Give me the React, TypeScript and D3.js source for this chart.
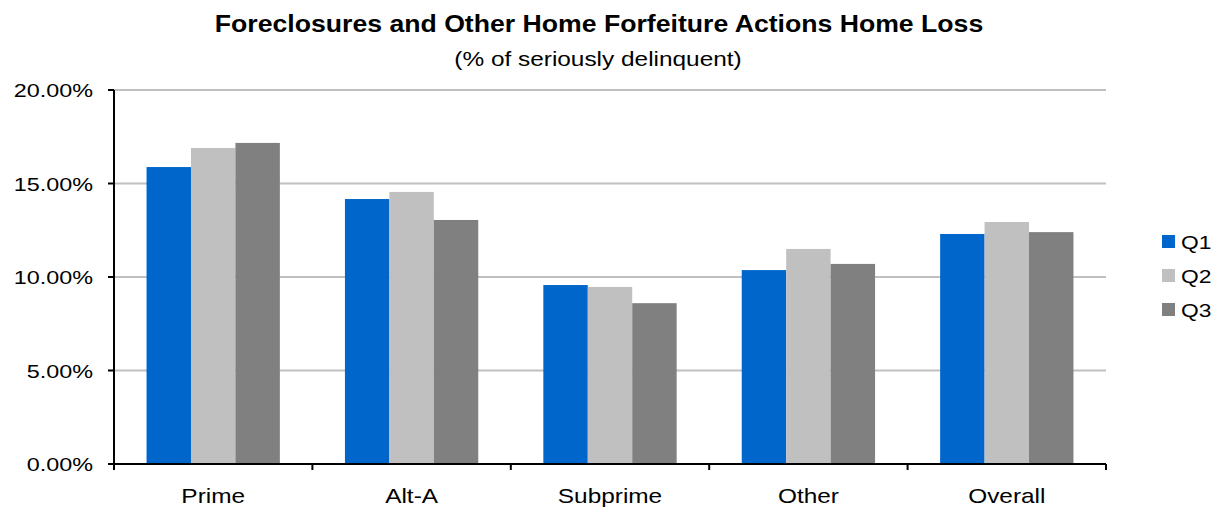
import React, { useEffect, useRef } from 'react';
import * as d3 from 'd3';

const categories = ['Prime', 'Alt-A', 'Subprime', 'Other', 'Overall'];
const seriesNames = ['Q1', 'Q2', 'Q3'];
const q1 = [15.88, 14.17, 9.57, 10.37, 12.3];
const q2 = [16.9, 14.55, 9.47, 11.5, 12.94];
const q3 = [17.17, 13.05, 8.6, 10.7, 12.4];
const yTicks = [0, 5, 10, 15, 20];
const colors = ['#0066CC', '#C0C0C0', '#808080'];

const App = () => {
  const svgRef = useRef<SVGSVGElement>(null);

  useEffect(() => {
    const width = 1211;
    const height = 510;
    const left = 114, right = 1106, top = 90, bottom = 464;
    const font = 'Liberation Sans, Arial, sans-serif';

    const svg = d3.select(svgRef.current).attr('width', width).attr('height', height);
    svg.selectAll('*').remove();

    // text in the original is a bit wider than Arial, so stretch it horizontally
    const label = (g: any, x: number, y: number, txt: string, size: number, sx: number, anchor = 'start', bold = false) =>
      g.append('text')
        .attr('transform', `translate(${x},${y}) scale(${sx},1)`)
        .attr('text-anchor', anchor)
        .style('font-family', font)
        .style('font-size', size + 'px')
        .style('font-weight', bold ? 'bold' : 'normal')
        .text(txt);

    const series = [q1, q2, q3];

    const x0 = d3.scaleBand().domain(categories).range([left, right]).paddingInner(0.328).paddingOuter(0.164);
    const x1 = d3.scaleBand().domain(seriesNames).range([0, x0.bandwidth()]);
    const y = d3.scaleLinear().domain([0, 20]).range([bottom, top]);

    // grid
    svg.append('g')
      .selectAll('line')
      .data(yTicks.filter(t => t > 0))
      .join('line')
      .attr('x1', left).attr('x2', right)
      .attr('y1', d => y(d)).attr('y2', d => y(d))
      .attr('stroke', '#c0c0c0').attr('stroke-width', 2);

    // bars
    categories.forEach((c, i) => {
      const g = svg.append('g').attr('transform', `translate(${x0(c)},0)`);
      series.forEach((s, j) => {
        g.append('rect')
          .attr('x', x1(seriesNames[j])!)
          .attr('y', y(s[i]))
          .attr('width', x1.bandwidth())
          .attr('height', bottom - y(s[i]))
          .attr('fill', colors[j]);
      });
    });

    // y axis
    svg.append('line').attr('x1', left).attr('x2', left).attr('y1', top).attr('y2', bottom)
      .attr('stroke', '#000').attr('stroke-width', 2);
    svg.append('g').selectAll('line').data(yTicks).join('line')
      .attr('x1', left - 6).attr('x2', left)
      .attr('y1', d => y(d)).attr('y2', d => y(d))
      .attr('stroke', '#000').attr('stroke-width', 2);
    const yLab = svg.append('g');
    yTicks.forEach(t => label(yLab, 93, y(t) + 7, d3.format('.2f')(t) + '%', 19, 1.23, 'end'));

    // x axis
    svg.append('line').attr('x1', left - 6).attr('x2', right).attr('y1', bottom).attr('y2', bottom)
      .attr('stroke', '#000').attr('stroke-width', 2);
    const step = x0.step();
    const bounds = d3.range(categories.length + 1).map(i => left + i * step);
    svg.append('g').selectAll('line').data(bounds).join('line')
      .attr('x1', d => d).attr('x2', d => d)
      .attr('y1', bottom).attr('y2', bottom + 6)
      .attr('stroke', '#000').attr('stroke-width', 2);
    const xLab = svg.append('g');
    categories.forEach(c => label(xLab, x0(c)! + x0.bandwidth() / 2, 503, c, 20, 1.22, 'middle'));

    // titles
    label(svg, 599, 32, 'Foreclosures and Other Home Forfeiture Actions Home Loss', 24, 1.11, 'middle', true);
    label(svg, 598, 66, '(% of seriously delinquent)', 20, 1.22, 'middle');

    // legend
    const legend = svg.append('g');
    seriesNames.forEach((n, j) => {
      const ly = 242 + j * 34;
      legend.append('rect').attr('x', 1162).attr('y', ly - 7).attr('width', 13).attr('height', 13)
        .attr('fill', colors[j]);
      label(legend, 1181, ly + 7, n, 19, 1.2);
    });
  }, []);

  return <svg ref={svgRef} style={{ position: 'absolute', left: 0, top: 0 }}></svg>;
};

export default App;
